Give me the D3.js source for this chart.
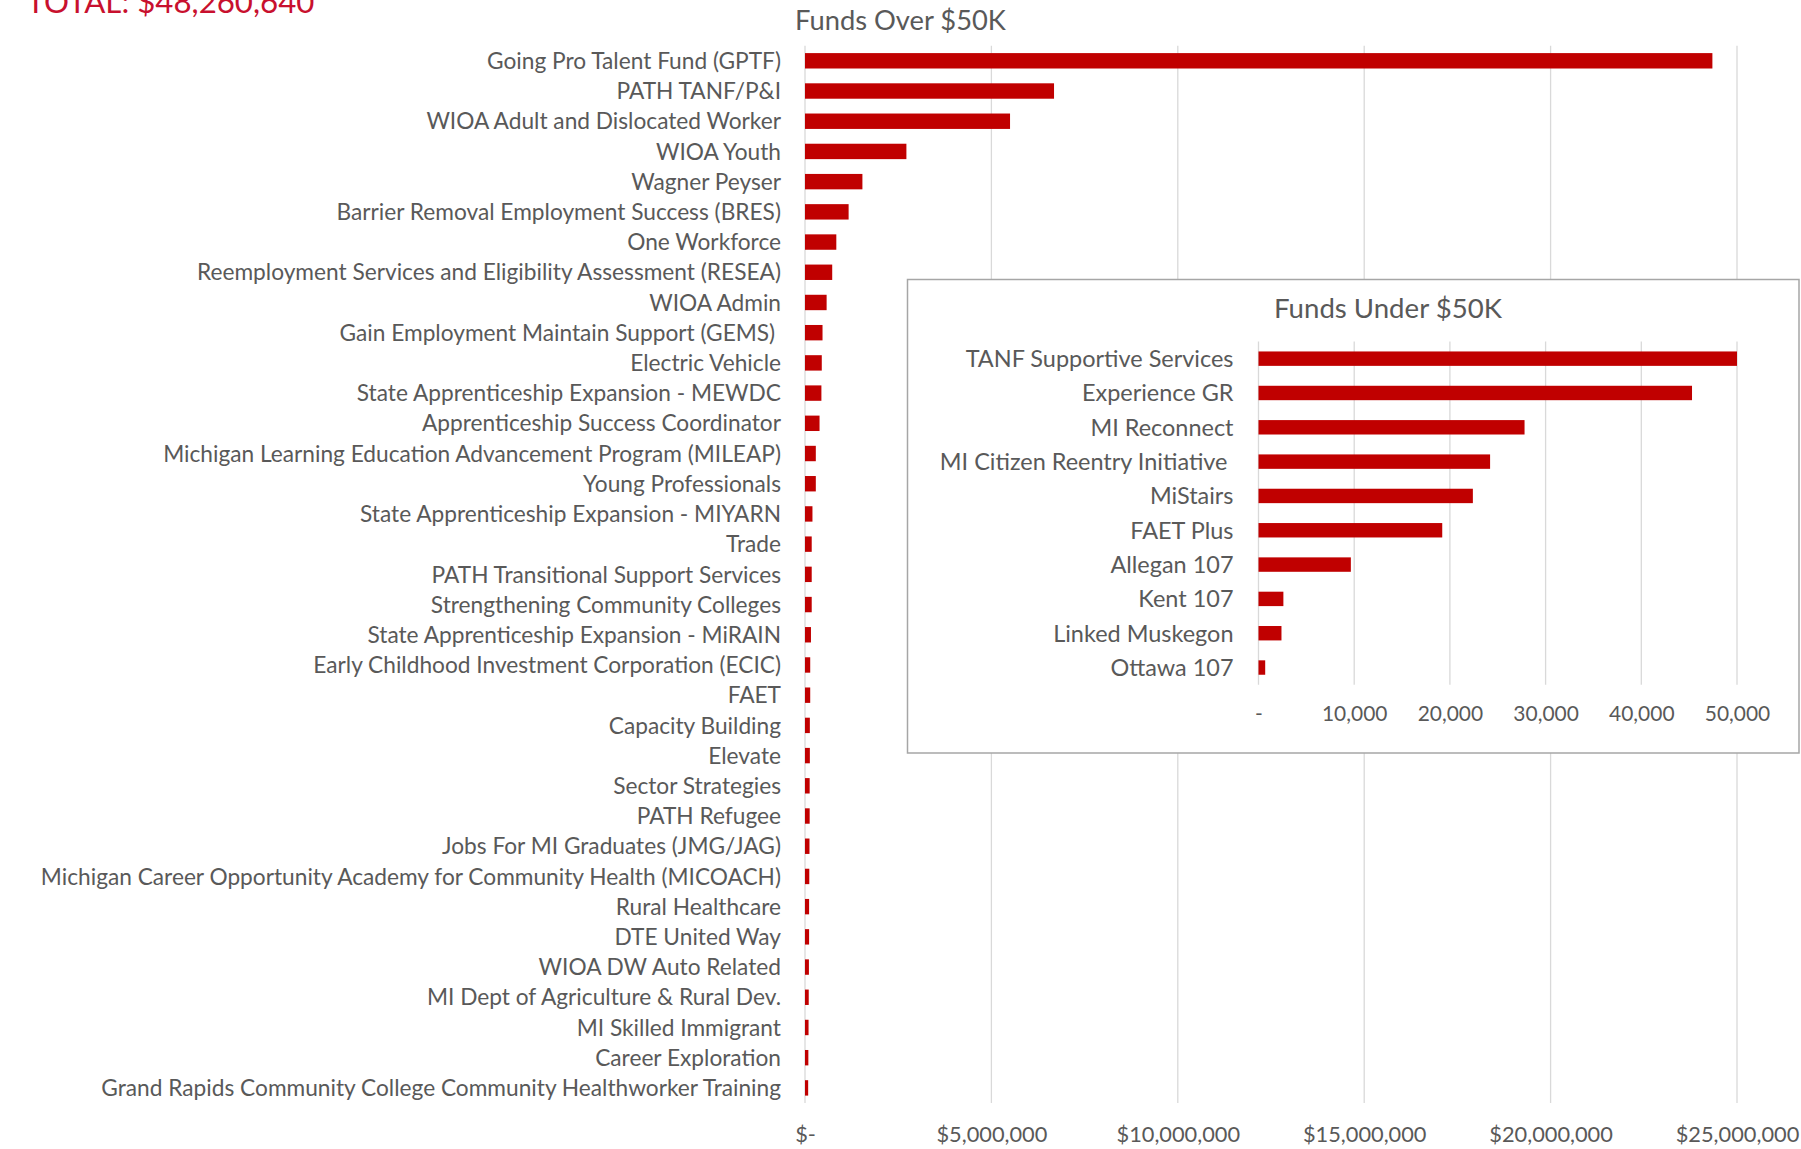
<!DOCTYPE html>
<html><head><meta charset="utf-8">
<script src="https://cdn.jsdelivr.net/npm/d3@7"></script>
<style>html,body{margin:0;padding:0;background:#fff;overflow:hidden}</style>
</head><body><svg id="c" width="1801" height="1149"></svg>
<script>
const totalLabel = "TOTAL: $48,260,640";
const overTitle = "Funds Over $50K";
const underTitle = "Funds Under $50K";

const overCategories = [
  "Going Pro Talent Fund (GPTF)",
  "PATH TANF/P&I",
  "WIOA Adult and Dislocated Worker",
  "WIOA Youth",
  "Wagner Peyser",
  "Barrier Removal Employment Success (BRES)",
  "One Workforce",
  "Reemployment Services and Eligibility Assessment (RESEA)",
  "WIOA Admin",
  "Gain Employment Maintain Support (GEMS) ",
  "Electric Vehicle",
  "State Apprenticeship Expansion - MEWDC",
  "Apprenticeship Success Coordinator",
  "Michigan Learning Education Advancement Program (MILEAP)",
  "Young Professionals",
  "State Apprenticeship Expansion - MIYARN",
  "Trade",
  "PATH Transitional Support Services",
  "Strengthening Community Colleges",
  "State Apprenticeship Expansion - MiRAIN",
  "Early Childhood Investment Corporation (ECIC)",
  "FAET",
  "Capacity Building",
  "Elevate",
  "Sector Strategies",
  "PATH Refugee",
  "Jobs For MI Graduates (JMG/JAG)",
  "Michigan Career Opportunity Academy for Community Health (MICOACH)",
  "Rural Healthcare",
  "DTE United Way",
  "WIOA DW Auto Related",
  "MI Dept of Agriculture & Rural Dev.",
  "MI Skilled Immigrant",
  "Career Exploration",
  "Grand Rapids Community College Community Healthworker Training"
];
const overValues = [
  24340000, 6680000, 5500000, 2720000, 1540000, 1170000, 840000, 730000,
  580000, 470000, 450000, 440000, 390000, 290000, 290000, 200000,
  180000, 180000, 180000, 160000, 140000, 140000, 130000, 130000,
  125000, 125000, 120000, 115000, 110000, 110000, 105000, 100000,
  95000, 90000, 85000
];
const overTicks = [0, 5000000, 10000000, 15000000, 20000000, 25000000];
const overTickLabels = ["$-", "$5,000,000", "$10,000,000", "$15,000,000", "$20,000,000", "$25,000,000"];

const underCategories = [
  "TANF Supportive Services",
  "Experience GR",
  "MI Reconnect",
  "MI Citizen Reentry Initiative ",
  "MiStairs",
  "FAET Plus",
  "Allegan 107",
  "Kent 107",
  "Linked Muskegon",
  "Ottawa 107"
];
const underValues = [50000, 45300, 27800, 24200, 22400, 19200, 9650, 2600, 2400, 700];
const underTicks = [0, 10000, 20000, 30000, 40000, 50000];
const underTickLabels = ["-", "10,000", "20,000", "30,000", "40,000", "50,000"];

const svg = d3.select("#c");
const FONT = "Lato, 'Open Sans', sans-serif";
const GRAY = "#595959";
const GRID = "#d9d9d9";
const BAR = "#C00000";

function fit(text, target) {
  const t = svg.append("text").attr("font-family", FONT).attr("font-size", 100)
    .style("white-space", "pre").text(text);
  const w = t.node().getComputedTextLength();
  t.remove();
  return 100 * target / w;
}

const fsTotal = fit(totalLabel, 288);
const fsOverTitle = fit(overTitle, 211);
const fsUnderTitle = fit(underTitle, 228);
const fsLabel = fit(overCategories[0], 294);
const fsULabel = fit(underCategories[0], 268);
const fsTick = fit(overTickLabels[1], 111);
const fsUTick = fit(underTickLabels[1], 65.5);

// Total
svg.append("text").attr("x", 26.5).attr("y", 12.5)
  .attr("font-family", FONT).attr("font-size", fsTotal).attr("fill", "#C8102E")
  .text(totalLabel);

// Main chart
const x = d3.scaleLinear().domain([0, 25000000]).range([805, 1737]);
const y = d3.scaleBand().domain(overCategories).range([45.7, 1103])
  .paddingInner(0.49).paddingOuter(0.245);

svg.append("text").attr("x", 900.5).attr("y", 20).attr("dy", "0.36em")
  .attr("text-anchor", "middle").attr("font-family", FONT)
  .attr("font-size", fsOverTitle).attr("fill", GRAY).text(overTitle);

svg.append("g").selectAll("line").data(overTicks).join("line")
  .attr("x1", d => x(d)).attr("x2", d => x(d))
  .attr("y1", 45.7).attr("y2", 1103)
  .attr("stroke", GRID).attr("stroke-width", 1.3);

svg.append("g").selectAll("rect").data(overValues).join("rect")
  .attr("x", x(0)).attr("y", (d, i) => y(overCategories[i]))
  .attr("width", d => x(d) - x(0)).attr("height", y.bandwidth())
  .attr("fill", BAR);

svg.append("g").selectAll("text").data(overCategories).join("text")
  .attr("x", 781).attr("y", d => y(d) + y.bandwidth() / 2).attr("dy", "0.36em")
  .attr("text-anchor", "end").attr("font-family", FONT).attr("font-size", fsLabel)
  .attr("fill", GRAY).style("white-space", "pre").text(d => d);

const xAxis = d3.axisBottom(x).tickValues(overTicks)
  .tickFormat((d, i) => overTickLabels[i]).tickSize(0);
const gx = svg.append("g").attr("transform", "translate(0,1134)").call(xAxis);
gx.select(".domain").remove();
gx.selectAll("text").attr("y", 0).attr("dy", "0.36em")
  .attr("font-family", FONT).attr("font-size", fsTick).attr("fill", GRAY);

// Inset
svg.append("rect").attr("x", 907.5).attr("y", 279.5).attr("width", 891.5).attr("height", 473.5)
  .attr("fill", "#fff").attr("stroke", "#a6a6a6").attr("stroke-width", 1.5);

const ix = d3.scaleLinear().domain([0, 50000]).range([1258.5, 1737]);
const iy = d3.scaleBand().domain(underCategories).range([341.5, 684.7])
  .paddingInner(0.58).paddingOuter(0.29);

svg.append("text").attr("x", 1388).attr("y", 308).attr("dy", "0.36em")
  .attr("text-anchor", "middle").attr("font-family", FONT)
  .attr("font-size", fsUnderTitle).attr("fill", GRAY).text(underTitle);

svg.append("g").selectAll("line").data(underTicks).join("line")
  .attr("x1", d => ix(d)).attr("x2", d => ix(d))
  .attr("y1", 341.5).attr("y2", 684.7)
  .attr("stroke", GRID).attr("stroke-width", 1.3);

svg.append("g").selectAll("rect").data(underValues).join("rect")
  .attr("x", ix(0)).attr("y", (d, i) => iy(underCategories[i]))
  .attr("width", d => ix(d) - ix(0)).attr("height", iy.bandwidth())
  .attr("fill", BAR);

svg.append("g").selectAll("text").data(underCategories).join("text")
  .attr("x", 1233.5).attr("y", d => iy(d) + iy.bandwidth() / 2).attr("dy", "0.36em")
  .attr("text-anchor", "end").attr("font-family", FONT).attr("font-size", fsULabel)
  .attr("fill", GRAY).style("white-space", "pre").text(d => d);

const ixAxis = d3.axisBottom(ix).tickValues(underTicks)
  .tickFormat((d, i) => underTickLabels[i]).tickSize(0);
const gix = svg.append("g").attr("transform", "translate(0,713)").call(ixAxis);
gix.select(".domain").remove();
gix.selectAll("text").attr("y", 0).attr("dy", "0.36em")
  .attr("font-family", FONT).attr("font-size", fsUTick).attr("fill", GRAY);
</script>
</body></html>
